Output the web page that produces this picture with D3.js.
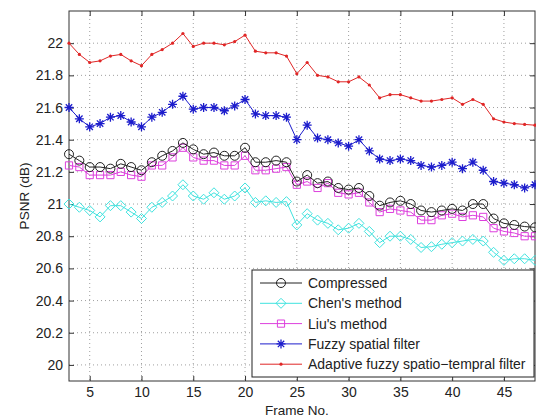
<!DOCTYPE html>
<html><head>
<meta charset="utf-8">
<script src="https://d3js.org/d3.v7.min.js"></script>
<style>
  body { margin: 0; background: #fff; }
  svg text { font-family: "Liberation Sans", Arial, sans-serif; fill: #222; }
</style>
</head>
<body>
<svg id="chart" width="536" height="417"></svg>
<script>
// frame numbers 3..48
const frames = [3,4,5,6,7,8,9,10,11,12,13,14,15,16,17,18,19,20,21,22,23,24,25,26,27,28,29,30,31,32,33,34,35,36,37,38,39,40,41,42,43,44,45,46,47,48];

const compressed = [21.31,21.27,21.23,21.23,21.22,21.25,21.23,21.21,21.26,21.30,21.33,21.38,21.34,21.31,21.32,21.30,21.30,21.35,21.26,21.26,21.27,21.26,21.14,21.18,21.13,21.14,21.10,21.09,21.10,21.05,20.99,21.01,21.02,21.00,20.96,20.95,20.96,20.97,20.96,21.00,21.00,20.91,20.88,20.87,20.86,20.855];
const chen = [21.00,20.98,20.96,20.92,20.99,20.99,20.95,20.91,20.98,21.01,21.05,21.12,21.05,21.03,21.07,21.03,21.05,21.10,21.01,21.02,21.01,21.015,20.87,20.94,20.90,20.88,20.84,20.85,20.88,20.83,20.76,20.80,20.80,20.78,20.73,20.735,20.75,20.76,20.77,20.78,20.77,20.70,20.65,20.66,20.66,20.65];
const liu = [21.24,21.23,21.18,21.18,21.18,21.20,21.18,21.17,21.24,21.24,21.29,21.35,21.29,21.27,21.27,21.24,21.24,21.30,21.21,21.21,21.22,21.23,21.12,21.14,21.10,21.13,21.07,21.06,21.07,21.01,20.95,20.97,20.96,20.95,20.90,20.90,20.93,20.94,20.92,20.93,20.92,20.85,20.83,20.82,20.80,20.80];
const fuzzy = [21.60,21.53,21.48,21.50,21.54,21.55,21.51,21.48,21.54,21.57,21.62,21.67,21.59,21.60,21.60,21.58,21.61,21.65,21.56,21.55,21.55,21.54,21.40,21.49,21.41,21.40,21.38,21.36,21.40,21.33,21.28,21.27,21.28,21.27,21.24,21.23,21.24,21.26,21.22,21.26,21.21,21.14,21.13,21.12,21.10,21.12];
const adaptive = [22.00,21.93,21.88,21.89,21.92,21.93,21.89,21.86,21.93,21.96,22.00,22.06,21.98,22.00,22.00,21.99,22.01,22.05,21.95,21.94,21.94,21.92,21.81,21.88,21.80,21.79,21.76,21.76,21.79,21.74,21.66,21.68,21.68,21.66,21.64,21.64,21.65,21.66,21.62,21.65,21.62,21.53,21.51,21.50,21.495,21.49];

const seriesNames = ["Compressed", "Chen's method", "Liu's method", "Fuzzy spatial filter", "Adaptive fuzzy spatio\u2212tempral filter"];
const xTicks = [5,10,15,20,25,30,35,40,45];
const yTicks = [20,20.2,20.4,20.6,20.8,21,21.2,21.4,21.6,21.8,22];

const svg = d3.select("#chart");
const margin = {top: 11, right: 1, bottom: 36, left: 69};
const width = +svg.attr("width");
const height = +svg.attr("height");
const plotW = width - margin.left - margin.right;
const plotH = height - margin.top - margin.bottom;

const x = d3.scaleLinear().domain([3, 48]).range([0, plotW]);
const y = d3.scaleLinear().domain([19.9, 22.2]).range([plotH, 0]);

const plot = svg.append("g").attr("transform", "translate(" + margin.left + "," + margin.top + ")");

// dotted grid
plot.append("g").selectAll("line").data(xTicks).join("line")
  .attr("x1", d => x(d)).attr("x2", d => x(d)).attr("y1", 0).attr("y2", plotH)
  .attr("stroke", "#888").attr("stroke-width", 0.8).attr("stroke-dasharray", "1,3");
plot.append("g").selectAll("line").data(yTicks).join("line")
  .attr("y1", d => y(d)).attr("y2", d => y(d)).attr("x1", 0).attr("x2", plotW)
  .attr("stroke", "#888").attr("stroke-width", 0.8).attr("stroke-dasharray", "1,3");

// axes with inward ticks (matlab style)
const axB = d3.axisBottom(x).tickValues(xTicks).tickSize(-5).tickPadding(6);
const axL = d3.axisLeft(y).tickValues(yTicks).tickSize(-5).tickPadding(6).tickFormat(d3.format("~g"));
const axT = d3.axisTop(x).tickValues(xTicks).tickSize(-5).tickFormat("");
const axR = d3.axisRight(y).tickValues(yTicks).tickSize(-5).tickFormat("");

function styleAxis(g) {
  g.select(".domain").remove();
  g.selectAll(".tick line").attr("stroke", "#333");
  g.selectAll(".tick text").style("font-size", "14px").attr("fill", "#222");
}
plot.append("g").attr("transform", "translate(0," + plotH + ")").call(axB).call(styleAxis);
plot.append("g").call(axL).call(styleAxis);
plot.append("g").call(axT).call(styleAxis);
plot.append("g").attr("transform", "translate(" + plotW + ",0)").call(axR).call(styleAxis);

plot.append("rect").attr("width", plotW).attr("height", plotH)
  .attr("fill", "none").attr("stroke", "#333").attr("stroke-width", 1);

// marker shapes
const markers = {
  circle: (g, c) => g.append("circle").attr("r", 4.5).attr("fill", "none").attr("stroke", c).attr("stroke-width", 1),
  diamond: (g, c) => g.append("path").attr("d", "M0,-5L5,0L0,5L-5,0Z").attr("fill", "none").attr("stroke", c).attr("stroke-width", 1),
  square: (g, c) => g.append("path").attr("d", "M-3.6,-3.6H3.6V3.6H-3.6Z").attr("fill", "none").attr("stroke", c).attr("stroke-width", 1),
  star: (g, c) => g.append("path").attr("d", "M-4.5,0H4.5M0,-4.5V4.5M-3.2,-3.2L3.2,3.2M-3.2,3.2L3.2,-3.2").attr("fill", "none").attr("stroke", c).attr("stroke-width", 1.3),
  dot: (g, c) => g.append("circle").attr("r", 1.6).attr("fill", c).attr("stroke", "none")
};

const series = [
  {name: seriesNames[0], values: compressed, color: "#222222", marker: "circle"},
  {name: seriesNames[1], values: chen, color: "#3fe3df", marker: "diamond"},
  {name: seriesNames[2], values: liu, color: "#dd3fdd", marker: "square"},
  {name: seriesNames[3], values: fuzzy, color: "#1c1ccc", marker: "star"},
  {name: seriesNames[4], values: adaptive, color: "#e02626", marker: "dot"}
];

const line = d3.line().x(d => x(d[0])).y(d => y(d[1]));

// draw in reverse so compressed sits on top like matlab
series.slice().reverse().forEach(s => {
  const pts = frames.map((f, i) => [f, s.values[i]]);
  const g = plot.append("g");
  g.append("path").datum(pts).attr("d", line)
    .attr("fill", "none").attr("stroke", s.color).attr("stroke-width", 1);
  g.selectAll("g.m").data(pts).join("g").attr("class", "m")
    .attr("transform", d => "translate(" + x(d[0]) + "," + y(d[1]) + ")")
    .each(function() { markers[s.marker](d3.select(this), s.color); });
});

// legend
const legX = 252 - margin.left, legY = 270 - margin.top;
const leg = plot.append("g").attr("transform", "translate(" + legX + "," + legY + ")");
leg.append("rect").attr("width", 282).attr("height", 107)
  .attr("fill", "#fff").attr("stroke", "#222").attr("stroke-width", 1);
series.forEach((s, i) => {
  const row = leg.append("g").attr("transform", "translate(0," + (13 + i * 20.3) + ")");
  row.append("line").attr("x1", 8).attr("x2", 50).attr("stroke", s.color).attr("stroke-width", 1);
  markers[s.marker](row.append("g").attr("transform", "translate(29,0)"), s.color);
  row.append("text").attr("x", 56).attr("y", 0).attr("dy", "0.35em")
    .style("font-size", "14px").text(s.name);
});

// axis labels
svg.append("text").attr("x", 297).attr("y", 415).attr("text-anchor", "middle")
  .style("font-size", "13.5px").text("Frame No.");
svg.append("text").attr("transform", "translate(29,196) rotate(-90)")
  .attr("text-anchor", "middle").style("font-size", "13.5px").text("PSNR (dB)");
</script>
</body>
</html>
